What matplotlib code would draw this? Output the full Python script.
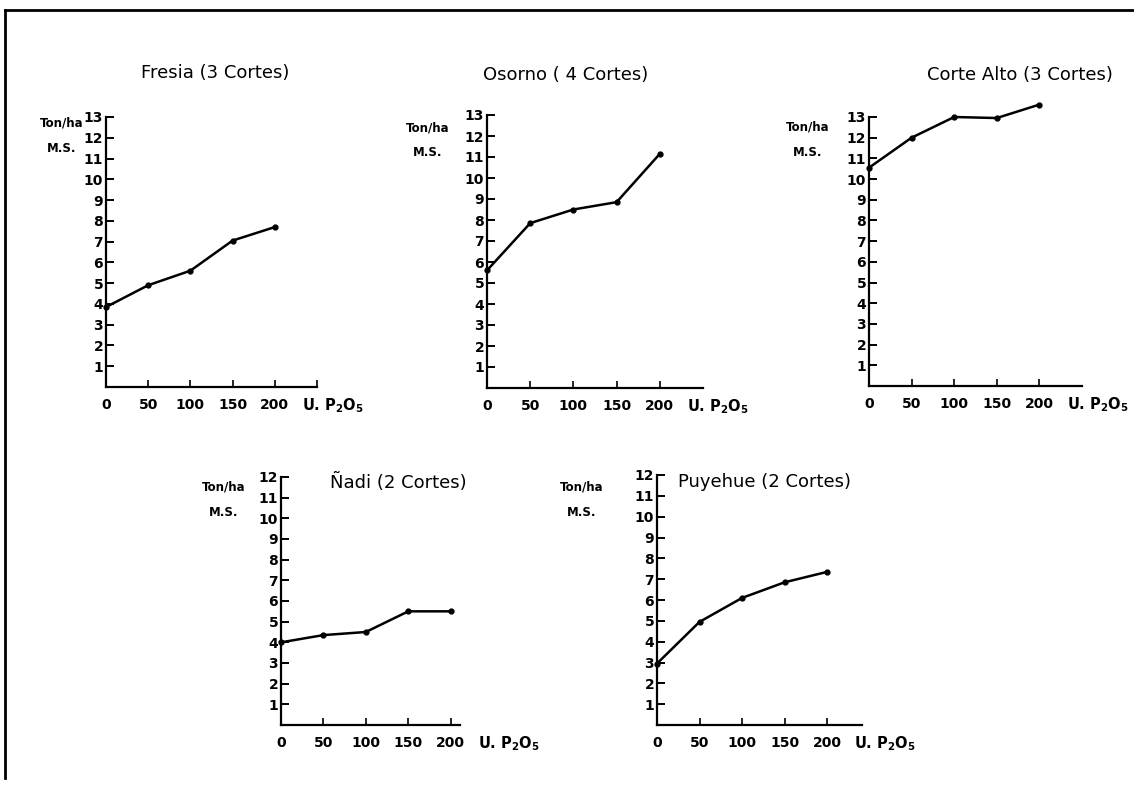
import numpy as np
import matplotlib
matplotlib.use('Agg')
from matplotlib import pyplot as plt
from matplotlib.lines import Line2D

plt.rcParams['font.family'] = 'DejaVu Sans'

# dosis de P2O5 (U.) y rendimiento (Ton/ha M.S.)
dosis = [0, 50, 100, 150, 200]
fresia = [3.85, 4.9, 5.6, 7.05, 7.7]
osorno = [5.6, 7.85, 8.5, 8.85, 11.15]
corte_alto = [10.55, 12.0, 13.0, 12.95, 13.6]
nadi = [4.0, 4.35, 4.5, 5.5, 5.5]
puyehue = [2.95, 4.95, 6.1, 6.85, 7.35]
titulos = ['Fresia (3 Cortes)', 'Osorno ( 4 Cortes)', 'Corte Alto (3 Cortes)',
           'Ñadi (2 Cortes)', 'Puyehue (2 Cortes)']

W, H = 1134, 796
fig = plt.figure(figsize=(W / 100, H / 100), dpi=100)

def px_axes(x0, x1, ybot, ytop):
    return fig.add_axes([x0 / W, 1 - ybot / H, (x1 - x0) / W, (ybot - ytop) / H])

# (x0, x1, ybot, ytop, xmax, ymax, title_x, title_y, ylab_x, ylab_y)
paneles = [
    (106, 317, 387, 117, 250, 13, 215, 73, 62, 123),
    (487, 703, 388, 115, 250, 13, 566, 75, 428, 128),
    (869, 1082, 386, 117, 250, 13, 1020, 75, 808, 127),
    (281, 460, 725, 477, 211, 12, 398, 482, 224, 487),
    (657, 862, 725, 475, 241, 12, 765, 482, 582, 487),
]
series = [fresia, osorno, corte_alto, nadi, puyehue]

for k, (p, y) in enumerate(zip(paneles, series)):
    x0, x1, yb, yt, xmax, ymax, tx, ty, lx, ly = p
    ax = px_axes(x0, x1, yb, yt)
    ax.plot(dosis, y, color='k', lw=1.8, marker='o', ms=3.5, clip_on=False)
    ax.set_xlim(0, xmax)
    ax.set_ylim(0, ymax)
    for s in ['top', 'right']:
        ax.spines[s].set_visible(False)
    for s in ['left', 'bottom']:
        ax.spines[s].set_linewidth(1.6)
    ax.set_yticks(range(1, ymax + 1))
    ax.set_yticklabels([str(v) for v in range(1, ymax + 1)],
                       fontweight='bold', fontsize=10)
    xt = dosis + [250] if k == 0 else dosis
    ax.set_xticks(xt)
    ax.set_xticklabels([str(v) for v in dosis] + [''] * (len(xt) - len(dosis)),
                       fontweight='bold', fontsize=10)
    ax.tick_params(axis='y', direction='in', length=6, width=1.4, pad=2)
    ax.tick_params(axis='x', direction='in', length=5, width=1.2, pad=8)
    ax.annotate(r'U. P$_\mathregular{2}$O$_\mathregular{5}$', xy=(232, 0),
                xycoords='data', xytext=(0, -23), textcoords='offset pixels',
                fontsize=10.5, fontweight='bold', va='baseline', ha='left',
                annotation_clip=False)
    fig.text(tx / W, 1 - ty / H, titulos[k], fontsize=13, ha='center', va='center')
    fig.text(lx / W, 1 - ly / H, 'Ton/ha', fontsize=8.5, fontweight='bold',
             ha='center', va='center')
    fig.text(lx / W, 1 - (ly + 25) / H, 'M.S.', fontsize=8.5, fontweight='bold',
             ha='center', va='center')

# marco
fig.add_artist(Line2D([5 / W, 1], [1 - 10 / H, 1 - 10 / H], color='k', lw=2))
fig.add_artist(Line2D([5 / W, 5 / W], [1 - 10 / H, 1 - 778 / H], color='k', lw=2))

fig.savefig('out.png', dpi=100)
